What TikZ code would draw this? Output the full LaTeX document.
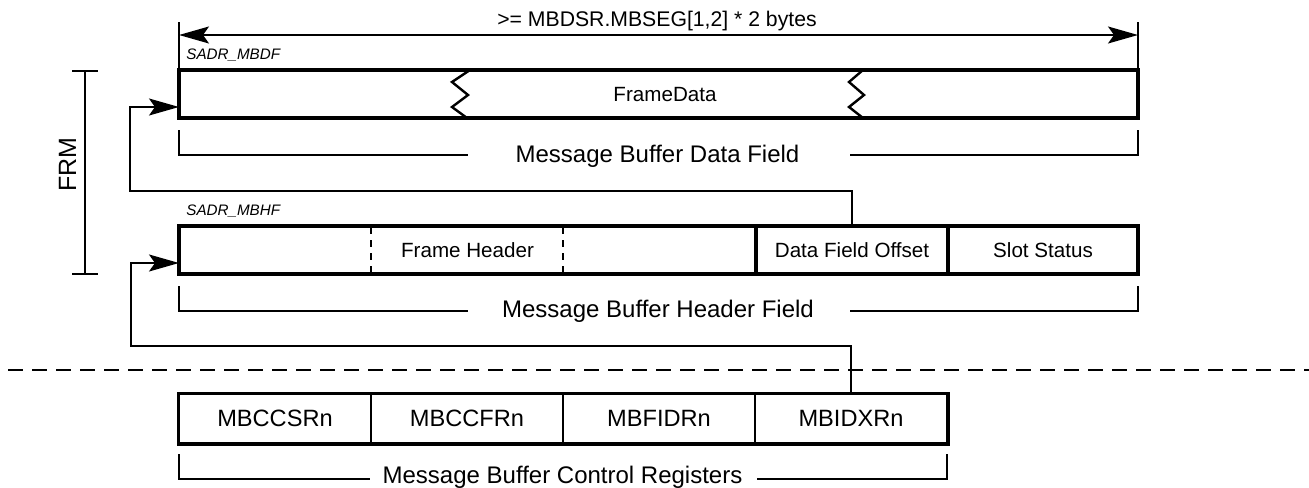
\documentclass[tikz,border=0pt]{standalone}
\usepackage{fontspec}
\setmainfont{Liberation Sans}
\usetikzlibrary{arrows.meta}

\begin{document}
\begin{tikzpicture}[
    x=0.5pt, y=-0.5pt,
    boxtext/.style={font=\fontsize{10.3}{12}\selectfont},
    field/.style={draw, line width=1.6pt, minimum height=24pt, inner sep=0pt, boxtext},
    reg/.style={draw, line width=0.9pt, minimum width=96pt, minimum height=24.5pt, inner sep=0pt, font=\fontsize{11.8}{14}\selectfont},
    bracket/.style={line width=0.9pt},
    bigtext/.style={font=\fontsize{12}{14}\selectfont, anchor=base, inner sep=0pt},
    addr/.style={font=\fontsize{7.6}{9}\selectfont\itshape, anchor=base west, inner sep=0pt},
    link/.style={line width=0.9pt},
    tip/.style={-{Stealth[length=15pt, width=8.5pt, inset=3pt]}}
]
    \useasboundingbox (0,0) rectangle (1309,487);

    % size of the data field
    \draw [bracket] (179,22) -- (179,70);
    \draw [bracket] (1138,22) -- (1138,70);
    \draw [link, tip] (658,35) -- (1138,35);
    \draw [link, tip] (658,35) -- (179,35);
    \node[anchor=base, inner sep=0pt, font=\fontsize{10.6}{12}\selectfont] (dimlbl) at (657,26) {>= MBDSR.MBSEG[1,2] * 2 bytes};

    % data field
    \node[addr] (sadrdf) at (186,59) {SADR\_MBDF};
    \node[field, minimum width=479.5pt] (mbdf) at (658.5,94) {};
    \node[boxtext] (fdata) at (665,95) {FrameData};
    \draw [line width=1.2pt] (470,70) -- (452,82) -- (468,95) -- (452,107) -- (467,118);
    \draw [line width=1.2pt] (863,70) -- (849,82) -- (864,95) -- (849,107) -- (863,118);
    \draw [bracket] (179,130) |- (468,155);
    \draw [bracket] (850,155) -| (1138,130);
    \node[bigtext] (dflbl) at (657.5,162) {Message Buffer Data Field};

    % frame
    \draw [bracket] (72,71) -- (98,71);
    \draw [bracket] (85,71) -- (85,274);
    \draw [bracket] (72,274) -- (98,274);
    \node[rotate=90, inner sep=0pt, font=\fontsize{12.5}{14}\selectfont] (frm) at (67.5,164.5) {FRM};

    % header field
    \node[addr] (sadrhf) at (186,215) {SADR\_MBHF};
    \node[field, minimum width=288.5pt] (fh) at (467.5,250) {Frame Header};
    \node[field, minimum width=96pt] (dfo) at (852,250) {Data Field Offset};
    \node[field, minimum width=95pt] (ss) at (1043,250) {Slot Status};
    \draw [line width=1.1pt, dash pattern=on 3.5pt off 3pt] (371,227) -- (371,273);
    \draw [line width=1.1pt, dash pattern=on 3.5pt off 3pt] (563,227) -- (563,273);
    \draw [bracket] (179,286) |- (468,311);
    \draw [bracket] (850,311) -| (1138,286);
    \node[bigtext] (hflbl) at (658,317) {Message Buffer Header Field};

    % pointers
    \coordinate (dfin) at (179,107);
    \coordinate (hfin) at (179,263);
    \draw [link, tip] (dfo.north) |- (130,191) |- (dfin);

    \draw [line width=1.2pt, dash pattern=on 7.5pt off 4.5pt] (8,370) -- (1309,370);

    % control registers
    \foreach \name/\txt [count=\i] in {r1/MBCCSRn, r2/MBCCFRn, r3/MBFIDRn, r4/MBIDXRn}
        \node[reg] (\name) at ({83+192*\i},418.5) {\txt};
    \draw [line width=1.6pt] (r1.north west) rectangle (r4.south east);
    \draw [link, tip] (r4.north) |- (131,346) |- (hfin);
    \draw [bracket] (179,454) |- (370,479);
    \draw [bracket] (757,479) -| (947,454);
    \node[bigtext] (crlbl) at (562.5,483) {Message Buffer Control Registers};
\end{tikzpicture}
\end{document}
